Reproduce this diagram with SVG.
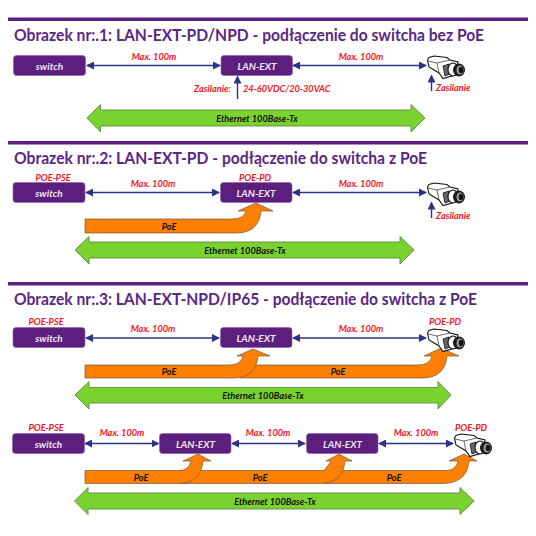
<svg xmlns="http://www.w3.org/2000/svg" width="536" height="536" viewBox="0 0 536 536">
<style>
.rule{fill:#5c1f80}
.title{font:bold 17.500px Lato,"Open Sans",sans-serif;fill:#5a2785}
.box{fill:#5c1f7d;stroke:#8a5fa6;stroke-width:.6}
.boxt{font:italic bold 10px Lato,"Open Sans",sans-serif;fill:#ece6f2;text-anchor:middle}
.red{font:italic bold 9.200px Lato,"Open Sans",sans-serif;fill:#f5141e}
.mid{text-anchor:middle}
.blk{font:italic bold 9.200px Lato,"Open Sans",sans-serif;fill:#111;text-anchor:middle}
.lnk{fill:none;stroke:#2b3388;stroke-width:1.400;marker-start:url(#s);marker-end:url(#e)}
.up{fill:none;stroke:#2b3388;stroke-width:1.400;marker-end:url(#e)}
.poe{fill:#ff7f00;stroke:#6e5a40;stroke-width:.7}
.eth{fill:#7ad22f;stroke:#5f8a45;stroke-width:.9}
</style>
<defs>
<marker id="e" viewBox="0 0 8 8" refX="7" refY="4" markerWidth="8" markerHeight="8" markerUnits="userSpaceOnUse" orient="auto"><path d="M0 0L8 4L0 8Z" fill="#2b3388"/></marker>
<marker id="s" viewBox="0 0 8 8" refX="1" refY="4" markerWidth="8" markerHeight="8" markerUnits="userSpaceOnUse" orient="auto"><path d="M8 0L0 4L8 8Z" fill="#2b3388"/></marker>
<g id="cam">
<path d="M.5 5L2 2.500L7 1L20 2.500L23 5L31 7L28 20L16 23.500L12 18L2 12Z" fill="#fff" stroke="#111" stroke-width="1.100"/>
<path d="M1 6L10 8L12 18M10 8L23 5" fill="none" stroke="#444" stroke-width=".8"/>
<path d="M16 11L22 9L23 19L18 21Z" fill="#666" stroke="#111" stroke-width=".8"/>
<ellipse cx="26" cy="14.500" rx="5" ry="6.500" fill="#fff" stroke="#111" stroke-width="1.100"/>
<ellipse cx="32" cy="15" rx="6" ry="6.500" fill="#1a1a1a"/>
<ellipse cx="33" cy="15" rx="3.500" ry="4.500" fill="#999"/>
<ellipse cx="34" cy="15" rx="2.200" ry="3.200" fill="#111"/>
</g>
</defs>
<rect width="536" height="536" fill="#fff"/>

<g id="section-rules">
<rect class="rule" x="8" y="17.500" width="520" height="3.500"/>
<rect class="rule" x="8" y="141" width="520" height="3.500"/>
<rect class="rule" x="8" y="282" width="520" height="3.500"/>
</g>
<g id="titles">
<text class="title" x="14" y="41" textLength="470" lengthAdjust="spacingAndGlyphs">Obrazek nr:.1: LAN-EXT-PD/NPD - podłączenie do switcha bez PoE</text>
<text class="title" x="14" y="164" textLength="413" lengthAdjust="spacingAndGlyphs">Obrazek nr:.2: LAN-EXT-PD - podłączenie do switcha z PoE</text>
<text class="title" x="14" y="305" textLength="463" lengthAdjust="spacingAndGlyphs">Obrazek nr:.3: LAN-EXT-NPD/IP65 - podłączenie do switcha z PoE</text>
</g>

<g id="bands">
<path class="eth" d="M87 118L100.500 104.500V110H411V104.500L425 118L411 132V126H100.500V132Z"/>
<path class="eth" d="M75 250L89 236.500V242H400V236.500L414 250L400 264V258H89V264Z"/>
<path class="eth" d="M75 395L89 381.500V387.500H438V381.500L451 395L438 409V403H89V409Z"/>
<path class="eth" d="M74.500 501L88 487.500V493H460V487.500L474 501L460 514.500V509H88V514.500Z"/>
<path class="poe" d="M85 219H232Q244 219 246 211H238L256 203L273 211H261Q259 233 236 233H85Z"/>
<path class="poe" d="M240 365H418Q430 365 432 356H424L441 348L459 356H447Q445 378 422 378H240Z"/>
<path class="poe" d="M85 365H229Q241 365 243 356H237L253 349L270 356H258Q256 378 233 378H85Z"/>
<path class="poe" d="M323 470.500H446Q456 470.500 458 461H449L464 454L477 461H469Q467 483.500 442 483.500H323Z"/>
<path class="poe" d="M180 470.500H323Q325 470.500 331 461H326L339 454L352 461H345Q343 483.500 319 483.500H180Z"/>
<path class="poe" d="M85 470.500H179Q189 470.500 191 461H183L198 454L211 461H203Q201 483.500 178 483.500H85Z"/>
</g>

<g id="connectors">
<path class="lnk" d="M87 65.500H220"/><path class="lnk" d="M293 65.500H426"/>
<path class="up" d="M237.500 99V76.500"/><path class="up" d="M431.500 91V75.500"/>
<path class="lnk" d="M86 192.500H219"/><path class="lnk" d="M293 192.500H426"/>
<path class="up" d="M431.500 218V202.500"/>
<path class="lnk" d="M86 338H219"/><path class="lnk" d="M293 338H426"/>
<path class="lnk" d="M85 443.500H158.500"/><path class="lnk" d="M232 443.500H305"/><path class="lnk" d="M379 443.500H453"/>
</g>

<g id="sw1"><rect class="box" x="13.500" y="55.500" width="72" height="20" rx="3"/><text class="boxt" x="49.500" y="69.500">switch</text></g>
<g id="ext1"><rect class="box" x="221" y="55.500" width="71.500" height="20" rx="3"/><text class="boxt" x="257" y="69.500">LAN-EXT</text></g>
<g id="cam1"><use href="#cam" x="427" y="55"/></g>
<g id="sw2"><rect class="box" x="13" y="182.500" width="72" height="20" rx="3"/><text class="boxt" x="49" y="196.500">switch</text></g>
<g id="ext2"><rect class="box" x="220.500" y="182.500" width="71.500" height="20" rx="3"/><text class="boxt" x="256" y="196.500">LAN-EXT</text></g>
<g id="cam2"><use href="#cam" x="427" y="182"/></g>
<g id="sw3"><rect class="box" x="13" y="327.500" width="72" height="20" rx="3"/><text class="boxt" x="49" y="341.500">switch</text></g>
<g id="ext3"><rect class="box" x="220.500" y="327.500" width="71.500" height="20" rx="3"/><text class="boxt" x="256" y="341.500">LAN-EXT</text></g>
<g id="cam3"><use href="#cam" x="427" y="328"/></g>
<g id="sw4"><rect class="box" x="12.500" y="433.500" width="72" height="20" rx="3"/><text class="boxt" x="48.500" y="447.500">switch</text></g>
<g id="ext4"><rect class="box" x="159.500" y="433.500" width="71.500" height="20" rx="3"/><text class="boxt" x="195.500" y="447.500">LAN-EXT</text></g>
<g id="ext5"><rect class="box" x="306.500" y="433.500" width="71.500" height="20" rx="3"/><text class="boxt" x="342.500" y="447.500">LAN-EXT</text></g>
<g id="cam4"><use href="#cam" x="454" y="433"/></g>

<g id="labels">
<text class="red mid" x="154" y="60">Max. 100m</text>
<text class="red mid" x="361" y="60">Max. 100m</text>
<text class="red" x="194" y="92">Zasilanie:</text>
<text class="red" x="243" y="92">24-60VDC/20-30VAC</text>
<text class="red" x="436" y="91">Zasilanie</text>
<text class="blk" x="257" y="122">Ethernet 100Base-Tx</text>

<text class="red mid" x="53" y="181">POE-PSE</text>
<text class="red mid" x="255" y="181">POE-PD</text>
<text class="red mid" x="153" y="187">Max. 100m</text>
<text class="red mid" x="361" y="187">Max. 100m</text>
<text class="red" x="436" y="219">Zasilanie</text>
<text class="blk" x="169" y="230">PoE</text>
<text class="blk" x="245" y="254">Ethernet 100Base-Tx</text>

<text class="red mid" x="46" y="325">POE-PSE</text>
<text class="red mid" x="445" y="325">POE-PD</text>
<text class="red mid" x="153" y="332">Max. 100m</text>
<text class="red mid" x="361" y="332">Max. 100m</text>
<text class="blk" x="169" y="375">PoE</text>
<text class="blk" x="338" y="375">PoE</text>
<text class="blk" x="263" y="399">Ethernet 100Base-Tx</text>

<text class="red mid" x="46" y="431">POE-PSE</text>
<text class="red mid" x="471" y="431">POE-PD</text>
<text class="red mid" x="122" y="436">Max. 100m</text>
<text class="red mid" x="268" y="436">Max. 100m</text>
<text class="red mid" x="416" y="436">Max. 100m</text>
<text class="blk" x="141" y="481">PoE</text>
<text class="blk" x="260" y="481">PoE</text>
<text class="blk" x="394" y="481">PoE</text>
<text class="blk" x="275" y="505">Ethernet 100Base-Tx</text>
</g>
</svg>
